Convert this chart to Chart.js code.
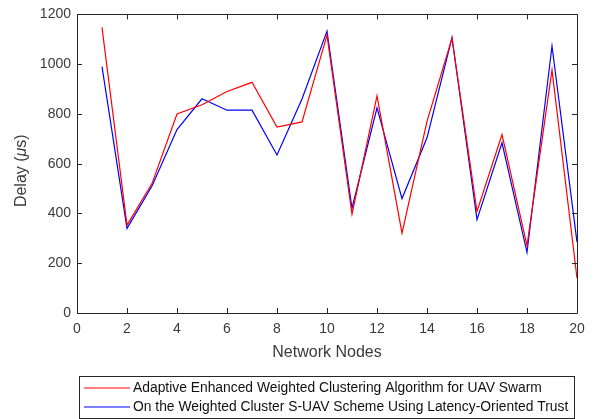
<!DOCTYPE html>
<html>
<head>
<meta charset="utf-8">
<script src="https://cdn.jsdelivr.net/npm/chart.js@4.4.0/dist/chart.umd.min.js"></script>
<style>
  html, body { margin: 0; padding: 0; background: #fff; }
  #wrap { width: 597px; height: 419px; }
</style>
</head>
<body>
<div id="wrap"><canvas id="mycanvas" width="597" height="419"></canvas></div>
<script>
// values
var nodes = [1, 2, 3, 4, 5, 6, 7, 8, 9, 10, 11, 12, 13, 14, 15, 16, 17, 18, 19, 20];
var aewca = [1148, 353, 520, 800, 837, 890, 927, 747, 768, 1117, 397, 873, 321, 770, 1104, 408, 717, 271, 977, 140];
var wcsuav = [990, 340, 510, 737, 861, 815, 815, 635, 860, 1133, 421, 824, 460, 704, 1107, 375, 684, 244, 1073, 285];
var seriesNames = [
  'Adaptive Enhanced Weighted Clustering Algorithm for UAV Swarm',
  'On the Weighted Cluster S-UAV Scheme Using Latency-Oriented Trust'
];
var xTicks = [0, 2, 4, 6, 8, 10, 12, 14, 16, 18, 20];
var yTicks = [0, 200, 400, 600, 800, 1000, 1200];

var FONT = '"Liberation Sans", Arial, Helvetica, sans-serif';
var AXIS_COLOR = '#262626';
var LABEL_COLOR = '#3a3a3a';

function pts(ys) {
  var out = [];
  for (var i in nodes) out.push({x: nodes[i], y: ys[i]});
  return out;
}

// box, inward ticks, axis titles and legend, matlab style
var matlabFrame = {
  id: 'matlabFrame',
  afterDraw: function(chart) {
    var ctx = chart.ctx;
    var a = chart.chartArea;
    var xs = chart.scales.x, ys = chart.scales.y;
    var tl = 5;
    ctx.save();
    ctx.strokeStyle = AXIS_COLOR;
    ctx.lineWidth = 1;
    ctx.beginPath();
    ctx.rect(Math.round(a.left) + 0.5, Math.round(a.top) + 0.5, Math.round(a.right - a.left), Math.round(a.bottom - a.top));
    xTicks.forEach(function(v) {
      var px = Math.round(xs.getPixelForValue(v)) + 0.5;
      ctx.moveTo(px, a.bottom); ctx.lineTo(px, a.bottom - tl);
      ctx.moveTo(px, a.top); ctx.lineTo(px, a.top + tl);
    });
    yTicks.forEach(function(v) {
      var py = Math.round(ys.getPixelForValue(v)) + 0.5;
      ctx.moveTo(a.left, py); ctx.lineTo(a.left + tl, py);
      ctx.moveTo(a.right, py); ctx.lineTo(a.right - tl, py);
    });
    ctx.stroke();

    // x title
    ctx.fillStyle = LABEL_COLOR;
    ctx.textAlign = 'center';
    ctx.textBaseline = 'middle';
    ctx.font = '16px ' + FONT;
    ctx.fillText('Network Nodes', (a.left + a.right) / 2, 353);

    // y title with italic mu
    ctx.save();
    ctx.translate(22, (a.top + a.bottom) / 2 + 7);
    ctx.rotate(-Math.PI / 2);
    var parts = [['Delay (', '16px ' + FONT], ['\u03bc', 'italic 16px ' + FONT], ['s)', '16px ' + FONT]];
    var total = 0;
    parts.forEach(function(p) { ctx.font = p[1]; total += ctx.measureText(p[0]).width; });
    var cx = -total / 2;
    ctx.textAlign = 'left';
    parts.forEach(function(p) {
      ctx.font = p[1];
      ctx.fillText(p[0], cx, 0);
      cx += ctx.measureText(p[0]).width;
    });
    ctx.restore();

    // legend
    var lx = 79.5, ly = 376.5, lw = 495, lh = 42;
    ctx.fillStyle = '#fff';
    ctx.fillRect(lx, ly, lw, lh);
    ctx.strokeStyle = AXIS_COLOR;
    ctx.strokeRect(lx, ly, lw, lh);
    ctx.font = '13.85px ' + FONT;
    ctx.textAlign = 'left';
    chart.data.datasets.forEach(function(ds, i) {
      var rowY = 388 + i * 19;
      ctx.strokeStyle = ds.borderColor;
      ctx.lineWidth = 1.2;
      ctx.beginPath();
      ctx.moveTo(84, rowY); ctx.lineTo(130, rowY);
      ctx.stroke();
      ctx.fillStyle = '#111';
      ctx.fillText(ds.label, 133, rowY);
    });
    ctx.restore();
  }
};

var chartdata = {
  datasets: [
    {
      label: seriesNames[0],
      borderColor: '#ff0000',
      backgroundColor: '#ff0000',
      borderWidth: 1.2,
      pointRadius: 0,
      tension: 0,
      data: pts(aewca)
    },
    {
      label: seriesNames[1],
      borderColor: '#0000ff',
      backgroundColor: '#0000ff',
      borderWidth: 1.2,
      pointRadius: 0,
      tension: 0,
      data: pts(wcsuav)
    }
  ]
};

var plain = function(v) { return String(v); };

var ctx = document.getElementById('mycanvas');
var lineGraph = new Chart(ctx, {
  type: 'line',
  data: chartdata,
  plugins: [matlabFrame],
  options: {
    responsive: false,
    animation: false,
    layout: { padding: { left: 0, right: 20, top: 13, bottom: 0 } },
    plugins: { legend: { display: false }, tooltip: { enabled: false } },
    scales: {
      x: {
        type: 'linear',
        min: 0, max: 20,
        afterBuildTicks: function(s) { s.ticks = xTicks.map(function(v) { return {value: v}; }); },
        afterFit: function(s) { s.height = 106; },
        grid: { display: false, drawTicks: false },
        border: { display: false },
        ticks: { color: LABEL_COLOR, font: { family: FONT, size: 14 }, padding: 8, maxRotation: 0, callback: plain }
      },
      y: {
        min: 0, max: 1200,
        afterBuildTicks: function(s) { s.ticks = yTicks.map(function(v) { return {value: v}; }); },
        afterFit: function(s) { s.width = 77; },
        grid: { display: false, drawTicks: false },
        border: { display: false },
        ticks: { color: LABEL_COLOR, font: { family: FONT, size: 14 }, padding: 6, callback: plain }
      }
    }
  }
});
</script>
</body>
</html>
